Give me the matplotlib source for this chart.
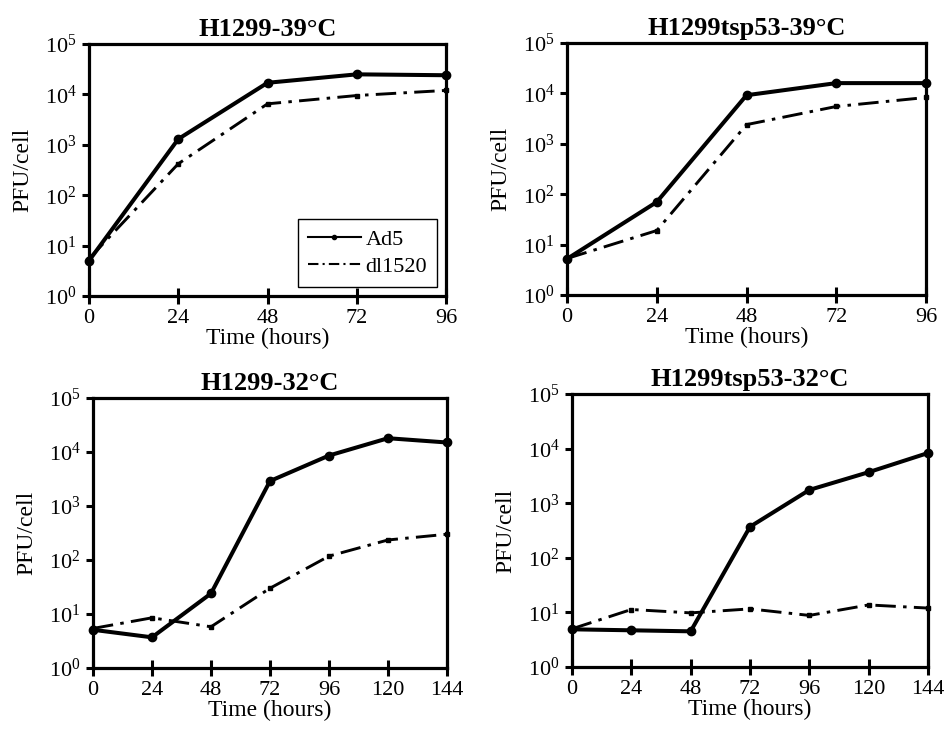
import matplotlib
matplotlib.use('Agg')
import matplotlib.pyplot as plt
from matplotlib.lines import Line2D

plt.rcParams['font.family'] = ['Liberation Serif', 'DejaVu Serif']
plt.rcParams['mathtext.fontset'] = 'custom'
plt.rcParams['mathtext.rm'] = 'Liberation Serif'

# time points (hours)
t_short = [0, 24, 48, 72, 96]
t_long = [0, 24, 48, 72, 96, 120, 144]

# H1299 at 39C
ad5_h39 = [5, 1300, 17000, 25000, 24000]
dl_h39 = [5.5, 420, 6500, 9500, 12000]

# H1299tsp53 at 39C
ad5_ts39 = [5.2, 70, 9200, 16000, 16000]
dl_ts39 = [5.3, 19, 2400, 5500, 8300]

# H1299 at 32C
ad5_h32 = [5.1, 3.7, 24, 2900, 8600, 18000, 15000]
dl_h32 = [5.4, 8.5, 5.8, 30, 118, 235, 300]

# H1299tsp53 at 32C
ad5_ts32 = [4.9, 4.7, 4.5, 370, 1750, 3700, 8300]
dl_ts32 = [5.0, 11.3, 9.8, 11.6, 8.8, 13.7, 12]

titles = ['H1299-39\u00b0C', 'H1299tsp53-39\u00b0C',
          'H1299-32\u00b0C', 'H1299tsp53-32\u00b0C']

W, H = 947, 730
# axes boxes in pixels: left, top, right, bottom
boxes = [(89, 44, 446, 296), (567, 43, 926, 295),
         (93, 398, 447, 668), (572, 394, 928, 667)]

panels = [(t_short, ad5_h39, dl_h39), (t_short, ad5_ts39, dl_ts39),
          (t_long, ad5_h32, dl_h32), (t_long, ad5_ts32, dl_ts32)]

fig = plt.figure(figsize=(W / 100, H / 100), dpi=100)

for i, (t, ad5, dl) in enumerate(panels):
    l, tp, r, b = boxes[i]
    ax = fig.add_axes([l / W, 1 - b / H, (r - l) / W, (b - tp) / H])
    ax.plot(t, ad5, color='black', lw=2.9, marker='o', ms=6,
            zorder=3, clip_on=False)
    ax.plot(t, dl, color='black', lw=2.1, marker='s', ms=3.5,
            dashes=(7, 2.5, 1.2, 2.5), zorder=3, clip_on=False)
    ax.set_yscale('log')
    ax.set_ylim(1, 1e5)
    ax.set_xlim(0, t[-1])
    ax.set_xticks(t)
    ax.set_yticks([1, 10, 100, 1e3, 1e4, 1e5])
    ax.minorticks_off()
    ax.set_yticklabels([r'$\mathregular{10^{%d}}$' % k for k in range(6)])
    ax.tick_params(axis='x', direction='inout', length=11, width=2.2,
                   labelsize=16, pad=4)
    ax.tick_params(axis='y', direction='out', length=5, width=2.2,
                   labelsize=16, pad=4)
    for s in ax.spines.values():
        s.set_linewidth(2.3)
    ax.set_xlabel('Time (hours)', fontsize=17, labelpad=0)
    ax.set_ylabel('PFU/cell', fontsize=17, labelpad=8)
    ax.set_title(titles[i], fontsize=19, fontweight='bold', pad=6)

    if i == 0:
        handles = [Line2D([], [], color='black', lw=1.5, marker='o', ms=3),
                   Line2D([], [], color='black', lw=1.5,
                          dashes=(5, 2, 1, 2))]
        leg = ax.legend(handles, ['Ad5', 'dl1520'], loc='lower right',
                        bbox_to_anchor=(0.975, 0.035), fontsize=16,
                        fancybox=False, edgecolor='black', framealpha=1,
                        handlelength=2.4, handletextpad=0.2,
                        borderpad=0.45, labelspacing=0.3,
                        borderaxespad=0)
        leg.get_frame().set_linewidth(1.0)

fig.savefig('out.png', dpi=100)
